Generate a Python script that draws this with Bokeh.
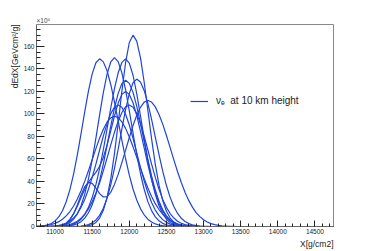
from bokeh.plotting import figure
from bokeh.models import FixedTicker, Legend, LegendItem, Range1d, Title
from bokeh.embed import file_html
from bokeh.resources import INLINE

# depth grid (g/cm2), 50 g/cm2 steps over the whole axis range
x_grid = list(range(10750, 14800, 50))

# energy deposit profiles (x 10^6 GeV cm2/g), starting at 10750 g/cm2
curve_a = [0.2, 0.4, 0.7, 1.4, 2.7, 5.0, 8.5, 14.0, 22.0, 32.8, 46.8, 63.6, 82.5, 102.1, 120.5, 135.6, 145.5, 149.0,
           146.3, 138.4, 126.2, 110.8, 93.8, 76.6, 60.2, 45.6, 33.3, 23.5, 15.9, 10.4, 6.5, 4.0, 2.3, 1.3, 0.7, 0.4, 0.2]
curve_b = [0, 0, 0, 0, 0.1, 0.2, 0.5, 0.9, 1.9, 3.6, 6.6, 11.3, 18.5, 28.7, 42.3, 59.2, 78.6, 99.2, 118.9, 135.3,
           146.2, 150.0, 146.5, 136.5, 121.3, 102.8, 83.1, 64.1, 47.1, 33.1, 22.1, 14.1, 8.6, 5.0, 2.8, 1.5, 0.7, 0.4, 0.2]
curve_c = [0, 0, 0, 0, 0, 0, 0.1, 0.3, 0.6, 1.1, 2.1, 3.8, 6.5, 10.8, 17.0, 25.7, 37.2, 51.4, 68.2, 86.6, 105.3,
           122.6, 136.6, 145.8, 149.0, 145.2, 134.4, 118.1, 98.6, 78.1, 58.8, 42.0, 28.5, 18.4, 11.3, 6.5, 3.6, 1.9,
           0.9, 0.4, 0.2, 0.1]
curve_d = [0, 0, 0, 0, 0, 0, 0, 0, 0, 0, 0, 0, 0.1, 0.3, 0.7, 1.6, 3.6, 7.5, 14.4, 25.7, 42.3, 64.8, 91.6, 120.2,
           145.7, 163.5, 170.0, 164.7, 150.0, 128.4, 103.1, 77.9, 55.2, 36.7, 23.0, 13.5, 7.5, 3.9, 1.9, 0.9, 0.4, 0.2]
curve_e = [0, 0, 0, 0, 0, 0, 0, 0.1, 0.3, 0.6, 1.3, 2.4, 4.3, 7.4, 12.2, 19.2, 28.7, 40.8, 55.5, 72.0, 89.1, 105.1,
           118.3, 127.0, 130.0, 127.2, 119.2, 106.9, 91.9, 75.6, 59.5, 44.9, 32.4, 22.4, 14.8, 9.4, 5.7, 3.3, 1.8, 1.0,
           0.5, 0.2, 0.1]
curve_f = [0, 0, 0, 0, 0, 0, 0, 0, 0, 0, 0.1, 0.2, 0.4, 0.8, 1.7, 3.2, 5.8, 9.9, 16.2, 25.1, 37.0, 51.7, 68.7, 86.7,
           103.8, 118.1, 127.7, 131.0, 128.4, 120.9, 109.4, 95.1, 79.5, 63.8, 49.2, 36.4, 25.9, 17.7, 11.6, 7.3, 4.5,
           2.6, 1.5, 0.8, 0.4, 0.2, 0.1]
curve_g = [0, 0, 0, 0, 0, 0.1, 0.3, 1.1, 2.6, 5.9, 11.4, 19.2, 28.0, 35.4, 39.2, 38.3, 34.2, 29.2, 26.2, 26.6, 30.4,
           37.4, 46.3, 56.8, 67.9, 79.1, 89.7, 98.8, 105.9, 110.5, 112.0, 110.6, 106.3, 99.6, 91.0, 80.9, 70.1, 59.2,
           48.7, 39.1, 30.5, 23.2, 17.2, 12.4, 8.8, 6.0, 4.0, 2.6, 1.7, 1.0, 0.6, 0.4, 0.2, 0.1]
curve_h = [0, 0, 0, 0, 0.1, 0.2, 0.3, 0.6, 1.1, 1.8, 3.0, 4.7, 7.3, 10.9, 15.7, 21.9, 29.7, 38.9, 49.4, 60.8, 72.5,
           83.7, 93.6, 101.3, 106.3, 108.0, 106.0, 100.3, 91.4, 80.3, 68.0, 55.5, 43.6, 33.1, 24.1, 17.0, 11.5, 7.5,
           4.7, 2.9, 1.7, 1.0, 0.5, 0.3, 0.1]
curve_i = [0, 0, 0.1, 0.1, 0.3, 0.5, 1.0, 1.7, 2.9, 4.7, 7.5, 11.5, 17.0, 24.1, 33.1, 43.6, 55.5, 68.0, 80.3, 91.4,
           100.3, 106.0, 108.0, 105.9, 99.7, 90.2, 78.4, 65.5, 52.6, 40.5, 30.0, 21.4, 14.6, 9.6, 6.1, 3.7, 2.1, 1.2,
           0.6, 0.3, 0.2, 0.1]
curve_j = [0.2, 0.4, 0.6, 1.1, 1.8, 2.8, 4.3, 6.4, 9.4, 13.3, 18.2, 24.4, 31.8, 40.3, 49.6, 59.4, 69.2, 78.5, 86.5,
           92.7, 96.6, 98.0, 96.7, 93.0, 87.2, 79.6, 70.8, 61.4, 51.8, 42.6, 34.2, 26.7, 20.3, 15.1, 10.9, 7.7, 5.3,
           3.5, 2.3, 1.5, 0.9, 0.5, 0.3, 0.2, 0.1]
curve_k = [0, 0, 0, 0, 0, 0.2, 0.5, 1.3, 3.1, 6.3, 11.3, 18.0, 25.7, 33.2, 39.3, 44.0, 48.1, 53.5, 61.4, 72.2, 85.0,
           98.2, 109.7, 117.4, 120.0, 117.4, 110.0, 98.7, 84.8, 69.8, 54.9, 41.4, 29.9, 20.7, 13.7, 8.7, 5.3, 3.1, 1.7,
           0.9, 0.5, 0.2, 0.1]

curves = [curve_a, curve_b, curve_c, curve_d, curve_e, curve_f, curve_g, curve_h, curve_i, curve_j, curve_k]

x_major = [11000, 11500, 12000, 12500, 13000, 13500, 14000, 14500]
y_major = [0, 20, 40, 60, 80, 100, 120, 140, 160]

FONT = "Liberation Sans"
BLUE = "#1f44da"
INK = "#222222"


def pad(vals, n):
    return list(vals) + [0.0] * (n - len(vals))


p = figure(width=363, height=249,
           x_range=Range1d(10750, 14750), y_range=Range1d(0, 179.5),
           output_backend="svg", toolbar_location=None,
           min_border_left=36, min_border_top=24, min_border_right=30,
           min_border_bottom=23)
p.xgrid.visible = False
p.ygrid.visible = False
p.outline_line_color = "#888888"
p.background_fill_color = "white"
p.border_fill_color = "white"

p.title.text = "\u00d710\u2076"
p.title.align = "left"
p.title.text_font = FONT
p.title.text_font_size = "6.5px"
p.title.text_font_style = "normal"
p.title.text_color = "#444444"
p.title.standoff = 1

renderers = []
for ys in curves:
    r = p.line(x_grid, pad(ys, len(x_grid)), line_color=BLUE, line_width=1.2)
    renderers.append(r)

p.xaxis.ticker = FixedTicker(ticks=x_major, minor_ticks=list(range(10800, 14800, 100)))
p.yaxis.ticker = FixedTicker(ticks=y_major, minor_ticks=list(range(0, 180, 5)))

for ax in (p.xaxis[0], p.yaxis[0]):
    ax.axis_line_color = "#666666"
    ax.major_tick_line_color = INK
    ax.minor_tick_line_color = INK
    ax.major_tick_out = 0
    ax.minor_tick_out = 0
    ax.major_label_text_font = FONT
    ax.major_label_text_font_size = "6.5px"
    ax.major_label_text_color = INK
    ax.major_label_standoff = 2

xa = p.xaxis[0]
xa.major_tick_in = 6
xa.minor_tick_in = 3
ya = p.yaxis[0]
ya.major_tick_in = 8
ya.minor_tick_in = 4

ytitle = Title(text="dEdX[GeVcm\u00b2/g]", align="right", text_font=FONT,
               text_font_size="8.5px", text_font_style="normal", text_color=INK, standoff=1)
p.add_layout(ytitle, "left")
xtitle = Title(text="X[g/cm2]", align="right", text_font=FONT,
               text_font_size="8.5px", text_font_style="normal", text_color=INK, standoff=0)
p.add_layout(xtitle, "below")

legend = Legend(items=[LegendItem(label="\u03bd\u2091  at 10 km height", renderers=[renderers[0]])],
                location=(154, 120), border_line_alpha=0, background_fill_alpha=0,
                padding=0, margin=0, glyph_width=18, glyph_height=10,
                label_standoff=8, label_text_font=FONT, label_text_font_size="10px",
                label_text_color=INK)
p.add_layout(legend, "center")

open("out.html", "w").write(file_html(p, INLINE))
